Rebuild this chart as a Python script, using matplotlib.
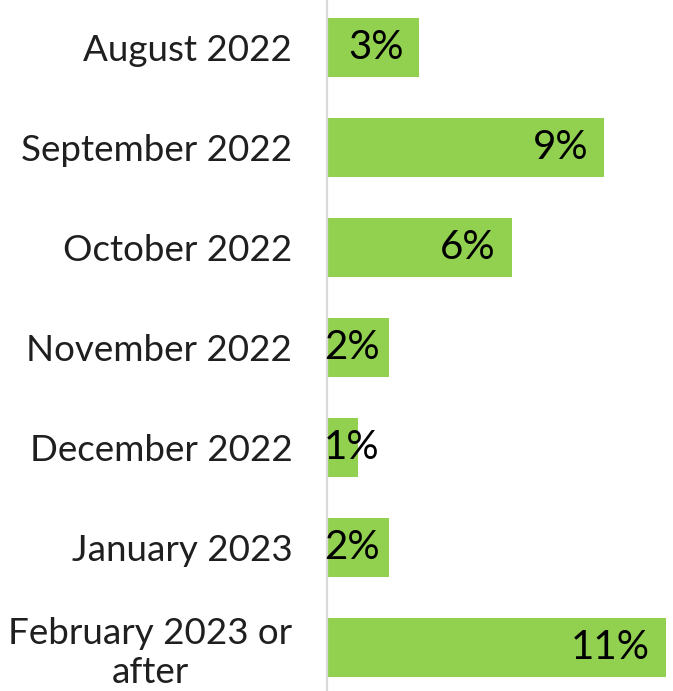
import matplotlib as mpl
import matplotlib.pyplot as plt
mpl.use('Agg')

# Month the respondent expects, share of responses (%)
categories = ["August 2022", "September 2022", "October 2022", "November 2022",
              "December 2022", "January 2023", "February 2023 or\nafter"]
shares = [3, 9, 6, 2, 1, 2, 11]

BAR_COLOR = "#92D050"
TEXT_COLOR = "#1F1F1F"
FONT = "Lato"

fig = plt.figure(figsize=(6.73, 6.91), dpi=100)
ax = fig.add_axes([327 / 673, 0, 1 - 327 / 673, 1])

positions = list(range(len(categories)))
ax.barh(positions, shares, height=0.59, color=BAR_COLOR, edgecolor="none", zorder=2)

# category band spacing is 100px, first bar centred 47.5px from top
ax.set_ylim(6.435, -0.475)
ax.set_xlim(0, 346 / 30.8)

ax.set_yticks(positions)
ax.set_yticklabels(categories, fontsize=26.5, family=FONT, color=TEXT_COLOR,
                   multialignment="center")
ax.tick_params(axis="y", length=0, pad=25)
ax.set_xticks([])

for side in ("top", "right", "bottom"):
    ax.spines[side].set_visible(False)
ax.spines["left"].set_color("#D9D9D9")
ax.spines["left"].set_linewidth(1.6)
ax.spines["left"].set_zorder(3)

# value labels at the inside end; short bars get the label from the axis
for pos, val in zip(positions, shares):
    if val <= 2:
        ax.annotate(f"{val}%", (0, pos), xytext=(-3, 0), textcoords="offset pixels",
                    ha="left", va="center", fontsize=29, family=FONT, color="black",
                    zorder=4)
    else:
        ax.annotate(f"{val}%", (val, pos), xytext=(-16, 0), textcoords="offset pixels",
                    ha="right", va="center", fontsize=29, family=FONT, color="black",
                    zorder=4)

fig.savefig("out.png", dpi=100)
